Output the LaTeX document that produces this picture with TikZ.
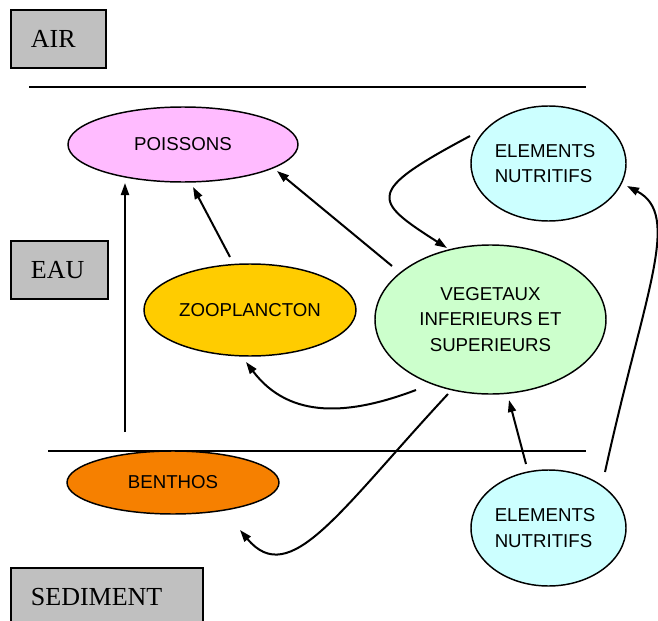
\documentclass[tikz,border=0pt]{standalone}
\usepackage{fontspec}
\setmainfont{Liberation Serif}
\setsansfont{Liberation Sans}
\usetikzlibrary{shapes.geometric,arrows.meta}
\definecolor{boxgray}{RGB}{192,192,192}
\definecolor{cpois}{RGB}{255,187,255}
\definecolor{czoo}{RGB}{255,204,0}
\definecolor{cveg}{RGB}{204,255,204}
\definecolor{celem}{RGB}{204,255,255}
\definecolor{cbent}{RGB}{246,128,0}
\begin{document}
\begin{tikzpicture}[x=0.75pt,y=-0.75pt,
  ell/.style={ellipse, draw, line width=1.1pt, inner sep=0pt, align=center, font=\sffamily\fontsize{14}{19}\selectfont},
  gbox/.style={draw, line width=1.4pt, fill=boxgray, anchor=north west, inner xsep=15pt, inner ysep=0pt, align=left, font=\fontsize{19.5}{22}\selectfont, minimum height=43.5pt},
  arr/.style={-{Triangle[length=9pt,width=6pt]}, line width=1.5pt},
  sepline/.style={line width=1.1pt}]
\useasboundingbox (0,0) rectangle (658,621);
% separator lines
\coordinate (l1a) at (29,87);
\coordinate (l1b) at (586,87);
\coordinate (l2a) at (48,451);
\coordinate (l2b) at (586,451);
\draw[sepline] (l1a) -- (l1b);
\draw[sepline] (l2a) -- (l2b);
% zone boxes
\node[gbox, text width=41.25pt] (air) at (10,9) {AIR};
\node[gbox, text width=42.75pt] (eau) at (10,240) {EAU};
\node[gbox, text width=114pt] (sed) at (10,567) {SEDIMENT};
% ellipses
\node[ell, fill=cpois, minimum width=172.5pt, minimum height=56.25pt] (poissons) at (183,144.5) {POISSONS};
\node[ell, align=left, fill=celem, minimum width=116.25pt, minimum height=86.25pt] (elemtop) at (548.5,163.5) {ELEMENTS\\NUTRITIFS\hspace*{7.5pt}};
\node[ell, fill=czoo, minimum width=159pt, minimum height=69pt] (zoo) at (250,310) {ZOOPLANCTON};
\node[ell, fill=cveg, minimum width=173.25pt, minimum height=111.75pt] (veg) at (490.5,319.5) {VEGETAUX\\INFERIEURS ET\\SUPERIEURS};
\node[ell, fill=cbent, minimum width=159pt, minimum height=47.25pt] (benthos) at (173,482.5) {BENTHOS};
\node[ell, align=left, fill=celem, minimum width=116.25pt, minimum height=87pt] (elembot) at (548.5,528) {ELEMENTS\\NUTRITIFS\hspace*{7.5pt}};
% connector ends
\coordinate (a1s) at (125,432);
\coordinate (a1e) at (125,183);
\coordinate (a2s) at (230,257);
\coordinate (a2e) at (193,187);
\coordinate (a3s) at (392,266);
\coordinate (a3e) at (277,171);
\coordinate (a4s) at (470,136);
\coordinate (a4e) at (447,248);
\coordinate (a5s) at (416,390);
\coordinate (a5e) at (246,362);
\coordinate (a6s) at (448,394);
\coordinate (a6e) at (240,530);
\coordinate (a7s) at (526,464);
\coordinate (a7e) at (509,400);
\coordinate (a8s) at (605,472);
\coordinate (a8e) at (627,186);
% connectors
\draw[arr] (a1s) -- (a1e);
\draw[arr] (a2s) -- (a2e);
\draw[arr] (a3s) -- (a3e);
\draw[arr] (a4s) .. controls (365,192) and (372,200) .. (a4e);
\draw[arr] (a5s) .. controls (350,415) and (290,420) .. (a5e);
\draw[arr] (a6s) .. controls (340,510) and (290,590) .. (a6e);
\draw[arr] (a7s) -- (a7e);
\draw[arr] (a8s) .. controls (645,290) and (682,215) .. (a8e);
\end{tikzpicture}
\end{document}
